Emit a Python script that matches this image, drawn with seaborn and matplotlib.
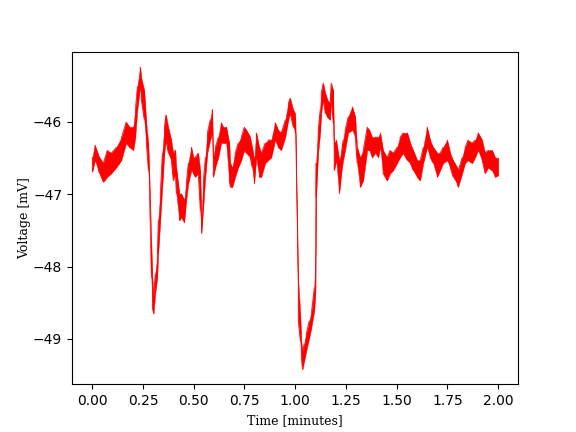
import matplotlib
matplotlib.use("Agg")
import matplotlib.pyplot as plt
import seaborn as sns
import pandas as pd

# Time (minutes) and the upper / lower edge of the noisy voltage trace (mV)
time_min = [0.000, 0.013, 0.030, 0.054, 0.074, 0.094, 0.118, 0.143, 0.167, 0.187,
            0.202, 0.212, 0.222, 0.236, 0.241, 0.256, 0.266, 0.276, 0.281, 0.291,
            0.296, 0.302, 0.310, 0.320, 0.325, 0.335, 0.345, 0.355, 0.363, 0.374,
            0.389, 0.399, 0.409, 0.414, 0.429, 0.438, 0.453, 0.463, 0.473, 0.488,
            0.498, 0.507, 0.522, 0.532, 0.538, 0.547, 0.557, 0.567, 0.581, 0.591,
            0.596, 0.606, 0.621, 0.635, 0.645, 0.660, 0.675, 0.680, 0.690, 0.704,
            0.719, 0.734, 0.749, 0.759, 0.778, 0.788, 0.798, 0.808, 0.823, 0.833,
            0.852, 0.867, 0.882, 0.901, 0.916, 0.931, 0.951, 0.966, 0.975, 0.990,
            0.999, 1.001, 1.015, 1.025, 1.030, 1.036, 1.044, 1.054, 1.069, 1.079,
            1.094, 1.100, 1.103, 1.113, 1.123, 1.128, 1.138, 1.148, 1.158, 1.172,
            1.177, 1.187, 1.192, 1.202, 1.217, 1.227, 1.236, 1.246, 1.261, 1.281,
            1.296, 1.305, 1.320, 1.335, 1.355, 1.365, 1.379, 1.394, 1.409, 1.419,
            1.433, 1.453, 1.468, 1.483, 1.502, 1.517, 1.532, 1.552, 1.567, 1.581,
            1.601, 1.616, 1.631, 1.650, 1.665, 1.680, 1.700, 1.714, 1.729, 1.749,
            1.764, 1.778, 1.798, 1.803, 1.823, 1.837, 1.852, 1.872, 1.887, 1.901,
            1.921, 1.936, 1.951, 1.970, 1.985, 2.000]

v_upper = [-46.49, -46.32, -46.46, -46.57, -46.39, -46.43, -46.35, -46.22, -46.00, -46.08,
           -46.07, -45.83, -45.51, -45.24, -45.38, -45.56, -46.01, -46.29, -46.70, -47.68,
           -48.15, -48.40, -48.10, -47.88, -47.36, -46.99, -46.43, -46.07, -45.90, -46.07,
           -46.25, -46.43, -46.39, -46.63, -46.99, -46.99, -47.08, -46.85, -46.57, -46.35,
           -46.49, -46.49, -46.43, -46.67, -47.36, -46.81, -46.49, -46.15, -45.97, -45.83,
           -46.49, -46.35, -46.21, -46.01, -46.07, -46.07, -46.29, -46.57, -46.63, -46.43,
           -46.29, -46.21, -46.07, -46.11, -46.21, -46.35, -46.53, -46.15, -46.35, -46.43,
           -46.29, -46.25, -46.25, -46.01, -46.11, -46.15, -45.97, -45.74, -45.67, -45.83,
           -45.88, -45.95, -48.19, -48.65, -49.03, -49.17, -49.07, -48.93, -48.75, -48.65,
           -48.29, -47.78, -46.57, -46.11, -45.83, -45.60, -45.46, -45.60, -45.69, -45.74,
           -45.46, -45.56, -46.29, -46.25, -46.53, -46.43, -46.25, -46.11, -45.93, -45.79,
           -45.93, -46.35, -46.49, -46.39, -46.07, -46.11, -46.21, -46.21, -46.21, -46.15,
           -46.39, -46.49, -46.39, -46.43, -46.35, -46.21, -46.15, -46.15, -46.29, -46.39,
           -46.53, -46.53, -46.35, -46.07, -46.25, -46.35, -46.43, -46.43, -46.35, -46.25,
           -46.43, -46.53, -46.63, -46.67, -46.49, -46.35, -46.25, -46.29, -46.25, -46.15,
           -46.25, -46.43, -46.39, -46.39, -46.49, -46.50]

v_lower = [-46.69, -46.53, -46.67, -46.83, -46.76, -46.71, -46.63, -46.53, -46.29, -46.36,
           -46.39, -46.21, -45.83, -45.51, -45.69, -45.97, -46.29, -46.67, -46.90, -48.15,
           -48.57, -48.65, -48.38, -48.15, -47.82, -47.36, -46.90, -46.43, -46.25, -46.43,
           -46.53, -46.81, -46.71, -46.99, -47.36, -47.32, -47.39, -47.08, -46.85, -46.67,
           -46.71, -46.76, -46.71, -47.22, -47.54, -47.18, -46.76, -46.43, -46.25, -46.15,
           -46.76, -46.63, -46.49, -46.29, -46.29, -46.29, -46.81, -46.90, -46.90, -46.76,
           -46.63, -46.53, -46.39, -46.43, -46.49, -46.63, -46.85, -46.49, -46.76, -46.76,
           -46.57, -46.53, -46.49, -46.25, -46.35, -46.39, -46.21, -45.97, -45.88, -46.07,
           -46.11, -46.15, -48.75, -49.03, -49.26, -49.42, -49.31, -49.17, -48.99, -48.85,
           -48.61, -48.33, -47.04, -46.43, -46.15, -45.88, -45.69, -45.88, -45.93, -45.97,
           -45.69, -46.01, -46.67, -46.53, -46.99, -46.71, -46.53, -46.39, -46.15, -46.11,
           -46.21, -46.57, -46.90, -46.81, -46.39, -46.39, -46.49, -46.43, -46.49, -46.35,
           -46.71, -46.81, -46.71, -46.67, -46.57, -46.49, -46.43, -46.53, -46.57, -46.67,
           -46.76, -46.81, -46.57, -46.35, -46.49, -46.57, -46.76, -46.67, -46.57, -46.53,
           -46.63, -46.76, -46.85, -46.90, -46.71, -46.57, -46.53, -46.57, -46.49, -46.39,
           -46.53, -46.71, -46.63, -46.67, -46.76, -46.74]

# zig-zag through the read edges to give the trace its noisy texture
zz_t, zz_v = [], []
for i, t in enumerate(time_min):
    a, b = (v_upper[i], v_lower[i]) if i % 2 == 0 else (v_lower[i], v_upper[i])
    zz_t += [t, t]
    zz_v += [a, b]
df = pd.DataFrame({"t": zz_t, "v": zz_v})

fig, ax = plt.subplots(figsize=(5.76, 4.32), dpi=100)
ax.fill_between(time_min, v_lower, v_upper, color="red", linewidth=0.3)
sns.lineplot(data=df, x="t", y="v", estimator=None, sort=False,
             color="red", linewidth=0.5, ax=ax)

ax.set_xlabel("Time [minutes]", family="DejaVu Serif", fontsize=9)
ax.set_ylabel("Voltage [mV]", family="DejaVu Serif", fontsize=9, labelpad=1.5)
ax.set_yticks([-46, -47, -48, -49])
ax.set_xticks([0.0, 0.25, 0.5, 0.75, 1.0, 1.25, 1.5, 1.75, 2.0])

fig.savefig("out.png", dpi=100)
